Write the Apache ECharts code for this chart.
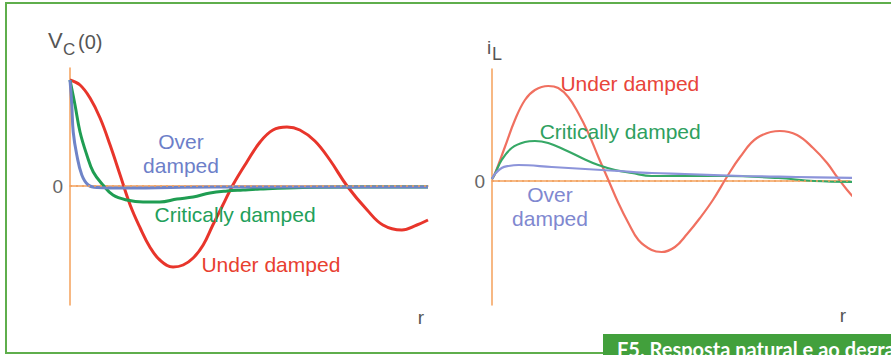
<!DOCTYPE html>
<html>
<head>
<meta charset="utf-8">
<script src="https://cdn.jsdelivr.net/npm/echarts@6/dist/echarts.min.js"></script>
<style>
  html, body { margin: 0; padding: 0; background: #ffffff; }
  #chart { width: 891px; height: 355px; }
</style>
</head>
<body>
<div id="chart"></div>
<script>
// Capacitor voltage vC(t): natural response, three damping cases
const vcUnderT = [0, 0.28, 0.56, 0.84, 1.12, 1.40, 1.68, 1.96, 2.23, 2.51, 2.88, 3.16, 3.44, 3.72, 3.99, 4.27, 4.55, 4.94, 5.31, 5.67, 6.06, 6.42, 6.84, 7.26, 7.74, 8.30, 8.74, 9.27, 9.69, 10];
const vcUnderV = [1.06, 1.01, 0.88, 0.68, 0.41, 0.11, -0.19, -0.42, -0.61, -0.74, -0.81, -0.79, -0.72, -0.59, -0.39, -0.19, 0.01, 0.24, 0.44, 0.56, 0.59, 0.56, 0.45, 0.26, 0, -0.24, -0.39, -0.44, -0.39, -0.34];
const vcCritT = [0, 0.14, 0.28, 0.47, 0.65, 0.92, 1.20, 1.59, 2.04, 2.51, 2.99, 3.44, 3.91, 4.39, 4.83, 5.31, 6.5, 8.0, 10];
const vcCritV = [1.06, 0.81, 0.54, 0.31, 0.14, 0.01, -0.09, -0.14, -0.16, -0.16, -0.13, -0.11, -0.07, -0.05, -0.04, -0.03, -0.015, -0.01, -0.01];
const vcOverT = [0, 0.05, 0.09, 0.19, 0.33, 0.51, 0.75, 1.58, 4, 7, 10];
const vcOverV = [1.06, 0.81, 0.54, 0.31, 0.11, 0.01, -0.015, -0.02, -0.01, -0.01, -0.01];

// Inductor current iL(t): natural response, three damping cases
const ilUnderT = [0, 0.08, 0.36, 0.64, 0.92, 1.20, 1.57, 1.85, 2.13, 2.41, 2.69, 2.97, 3.25, 3.53, 3.81, 4.09, 4.46, 4.74, 5.11, 5.45, 5.81, 6.17, 6.56, 6.93, 7.40, 8.04, 8.52, 8.97, 9.36, 9.64, 9.92, 10.22];
const ilUnderV = [0.02, 0.07, 0.34, 0.61, 0.81, 0.91, 0.95, 0.93, 0.84, 0.68, 0.48, 0.24, 0.01, -0.22, -0.42, -0.59, -0.69, -0.71, -0.66, -0.53, -0.37, -0.19, 0.04, 0.24, 0.43, 0.50, 0.46, 0.33, 0.18, 0.04, -0.09, -0.21];
const ilCritT = [0, 0.08, 0.27, 0.55, 0.92, 1.20, 1.57, 2.04, 2.51, 2.97, 3.44, 3.91, 4.46, 5.40, 6.5, 8.0, 9.0, 10.22];
const ilCritV = [0.02, 0.07, 0.21, 0.33, 0.39, 0.40, 0.38, 0.31, 0.23, 0.16, 0.11, 0.08, 0.05, 0.05, 0.05, 0.03, 0.0, -0.01];
const ilOverT = [0, 0.08, 0.27, 0.46, 0.74, 1.67, 2.60, 3.53, 4.46, 5.39, 7.0, 8.5, 10.22];
const ilOverV = [0.02, 0.07, 0.13, 0.15, 0.16, 0.14, 0.12, 0.10, 0.08, 0.07, 0.05, 0.04, 0.03];

// Annotation text and anchor points (data units)
const vcLabels = [
  { text: 'Over\ndamped', t: 3.10, v: 0.33, color: '#6d7fc9' },
  { text: 'Critically damped', t: 4.61, v: -0.28, color: '#22a05a' },
  { text: 'Under damped', t: 5.61, v: -0.78, color: '#e8402f' }
];
const ilLabels = [
  { text: 'Under damped', t: 3.85, v: 0.98, color: '#e8453a' },
  { text: 'Critically damped', t: 3.58, v: 0.50, color: '#2ea060' },
  { text: 'Over\ndamped', t: 1.62, v: -0.255, color: '#8088d0' }
];

const zip = (t, v) => t.map((x, i) => [x, v[i]]);
const AXIS = '#f5a05a';
const FONT = '"Liberation Sans", Arial, sans-serif';

function labelPoints(list) {
  return {
    silent: true,
    symbol: 'circle',
    symbolSize: 1,
    itemStyle: { color: 'transparent' },
    data: list.map(l => ({
      coord: [l.t, l.v],
      label: {
        show: true, position: 'inside', formatter: l.text,
        color: l.color, fontSize: 21, fontFamily: FONT, lineHeight: 24, align: 'center'
      }
    }))
  };
}

function curve(name, data, xi, color, width, extra) {
  return Object.assign({
    name, type: 'line', xAxisIndex: xi, yAxisIndex: xi,
    data, smooth: 0.4, symbol: 'none', clip: false,
    lineStyle: { color, width }, z: 3
  }, extra || {});
}

function zeroLine() {
  return {
    silent: true, symbol: 'none',
    lineStyle: { color: '#f0a060', type: [2, 4], width: 1.5 },
    label: { show: false },
    data: [{ yAxis: 0 }]
  };
}

const chart = echarts.init(document.getElementById('chart'), null, { renderer: 'svg' });

const baseX = {
  type: 'value', min: 0, max: 10,
  axisLine: { lineStyle: { color: AXIS, width: 1.5 } },
  axisTick: { show: false }, axisLabel: { show: false }, splitLine: { show: false }
};
const baseY = {
  type: 'value',
  axisLine: { show: true, lineStyle: { color: AXIS, width: 1.5 } },
  axisTick: { show: false }, splitLine: { show: false },
  axisLabel: {
    customValues: [0], formatter: v => (Math.abs(v) < 1e-9 ? '0' : ''),
    color: '#666666', fontSize: 19, fontFamily: FONT, margin: 7
  }
};

chart.setOption({
  backgroundColor: '#ffffff',
  animation: false,
  grid: [
    { left: 70, top: 68, width: 358, height: 237 },
    { left: 492, top: 69, width: 358, height: 236 }
  ],
  xAxis: [
    Object.assign({ gridIndex: 0 }, baseX),
    Object.assign({ gridIndex: 1 }, baseX)
  ],
  yAxis: [
    Object.assign({ gridIndex: 0, min: -1.19, max: 1.18 }, baseY),
    Object.assign({ gridIndex: 1, min: -1.24, max: 1.12 }, baseY)
  ],
  series: [
    curve('vC under', zip(vcUnderT, vcUnderV), 0, '#e8352b', 3, { markLine: zeroLine(), markPoint: labelPoints(vcLabels) }),
    curve('vC critical', zip(vcCritT, vcCritV), 0, '#1f9d52', 3),
    curve('vC over', zip(vcOverT, vcOverV), 0, '#6f84c8', 3),
    curve('iL under', zip(ilUnderT, ilUnderV), 1, '#f07060', 2.2, { markLine: zeroLine(), markPoint: labelPoints(ilLabels) }),
    curve('iL critical', zip(ilCritT, ilCritV), 1, '#36a866', 2.2),
    curve('iL over', zip(ilOverT, ilOverV), 1, '#8c94da', 2.2)
  ],
  graphic: [
    { type: 'rect', shape: { x: 6, y: 3, width: 900, height: 350 }, style: { fill: 'none', stroke: '#5fae4c', lineWidth: 2 }, z: 1 },
    // axis titles
    { type: 'text', x: 48, y: 40, style: { text: 'V', fontSize: 22, fontFamily: FONT, fill: '#555555', verticalAlign: 'middle' } },
    { type: 'text', x: 63, y: 49, style: { text: 'C', fontSize: 17, fontFamily: FONT, fill: '#555555', verticalAlign: 'middle' } },
    { type: 'text', x: 78, y: 42, style: { text: '(0)', fontSize: 20, fontFamily: FONT, fill: '#555555', verticalAlign: 'middle' } },
    { type: 'text', x: 487, y: 47, style: { text: 'i', fontSize: 19, fontFamily: FONT, fill: '#555555', verticalAlign: 'middle' } },
    { type: 'text', x: 492, y: 54, style: { text: 'L', fontSize: 18, fontFamily: FONT, fill: '#555555', verticalAlign: 'middle' } },
    { type: 'text', x: 421, y: 317, style: { text: 'r', fontSize: 19, fontFamily: FONT, fill: '#555555', align: 'center', verticalAlign: 'middle' } },
    { type: 'text', x: 843, y: 315, style: { text: 'r', fontSize: 19, fontFamily: FONT, fill: '#555555', align: 'center', verticalAlign: 'middle' } },
    // figure caption (runs past the right edge of the page)
    { type: 'rect', shape: { x: 603, y: 334, width: 300, height: 25 }, style: { fill: '#42a03c' }, z: 5 },
    { type: 'text', x: 617, y: 349, z: 6, style: { text: 'F5. Resposta natural e ao degrau', fontSize: 20, fontWeight: 'bold', fontFamily: 'Lato, "Open Sans", sans-serif', fill: '#ffffff', verticalAlign: 'middle' } }
  ]
});
</script>
</body>
</html>
